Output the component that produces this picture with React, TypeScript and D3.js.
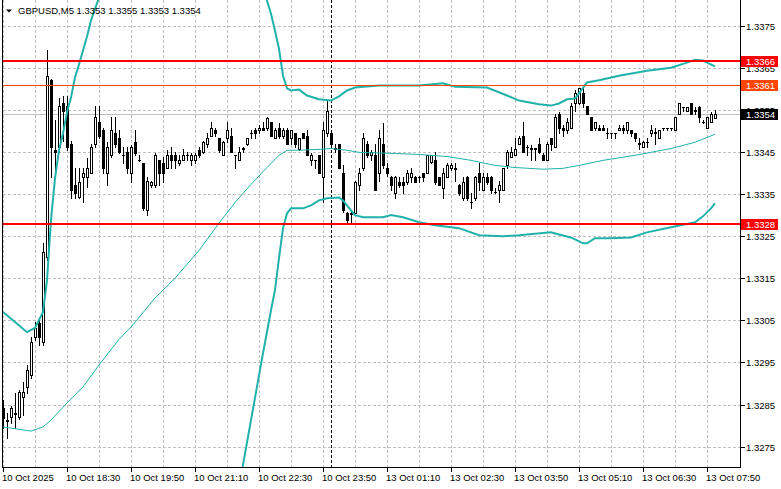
// App.tsx - GBPUSD M5 candles with Bollinger bands and levels (MT4 look)
import React from "react";
import * as d3 from "d3";

// prices are in points (1 point = 0.00001)
const symbol = "GBPUSD,M5";

const opens = [
  132842, 132813, 132821, 132828, 132821, 132868, 132892, 132920, 133010, 133043,
  132998, 133200, 133622, 133454, 133461, 133567, 133560, 133470, 133371, 133342,
  133390, 133390, 133401, 133470, 133520, 133501, 133401, 133442, 133494, 133482,
  133442, 133449, 133401, 133473, 133430, 133423, 133311, 133371, 133371, 133430,
  133423, 133411, 133442, 133442, 133423, 133430, 133442, 133430, 133430, 133454,
  133449, 133470, 133489, 133501, 133482, 133442, 133482, 133489, 133442, 133430,
  133458, 133470, 133494, 133501, 133501, 133508, 133508, 133520, 133482, 133508,
  133489, 133501, 133482, 133494, 133458, 133494, 133489, 133430, 133430, 133442,
  133390, 133494, 133494, 133458, 133470, 133401, 133304, 133304, 133304, 133371,
  133411, 133470, 133442, 133442, 133399, 133470, 133411, 133390, 133352, 133378,
  133378, 133378, 133390, 133390, 133390, 133399, 133401, 133425, 133430, 133390,
  133364, 133390, 133411, 133413, 133371, 133340, 133390, 133330, 133340, 133401,
  133359, 133390, 133390, 133354, 133359, 133359, 133418, 133437, 133442, 133470,
  133489, 133461, 133458, 133458, 133470, 133442, 133430, 133482, 133461, 133541,
  133508, 133501, 133508, 133567, 133567, 133591, 133560, 133532, 133508, 133508,
  133508, 133494, 133494, 133494, 133501, 133508, 133501, 133501, 133494, 133470,
  133461, 133473, 133494, 133496, 133482, 133506, 133506, 133506, 133501, 133541,
  133556, 133548, 133567, 133548, 133556, 133520, 133508, 133520, 133530,
];

const highs = [
  132861, 132830, 132847, 132877, 132885, 132904, 132944, 133010, 133046, 133055,
  133233, 133691, 133624, 133525, 133579, 133584, 133584, 133477, 133413, 133411,
  133413, 133435, 133470, 133560, 133560, 133506, 133473, 133532, 133532, 133501,
  133461, 133461, 133466, 133501, 133442, 133423, 133390, 133382, 133447, 133430,
  133437, 133454, 133461, 133449, 133442, 133458, 133449, 133447, 133447, 133461,
  133477, 133494, 133520, 133506, 133484, 133477, 133520, 133506, 133442, 133461,
  133461, 133484, 133501, 133506, 133513, 133520, 133532, 133520, 133506, 133518,
  133508, 133506, 133501, 133496, 133484, 133496, 133501, 133447, 133430, 133442,
  133520, 133572, 133496, 133470, 133470, 133418, 133307, 133307, 133382, 133411,
  133494, 133477, 133454, 133470, 133501, 133518, 133423, 133394, 133394, 133390,
  133390, 133406, 133411, 133394, 133394, 133401, 133442, 133442, 133449, 133390,
  133411, 133423, 133423, 133423, 133375, 133390, 133394, 133352, 133394, 133423,
  133399, 133399, 133394, 133364, 133382, 133413, 133454, 133461, 133482, 133489,
  133520, 133466, 133466, 133458, 133482, 133447, 133473, 133482, 133541, 133544,
  133513, 133530, 133567, 133596, 133603, 133601, 133560, 133532, 133520, 133513,
  133513, 133508, 133494, 133494, 133513, 133513, 133520, 133501, 133494, 133482,
  133477, 133482, 133513, 133508, 133501, 133508, 133508, 133508, 133532, 133567,
  133556, 133556, 133567, 133556, 133560, 133525, 133532, 133544, 133550,
];

const lows = [
  132794, 132771, 132806, 132794, 132816, 132825, 132877, 132913, 133003, 132991,
  132991, 133193, 133390, 133406, 133449, 133477, 133454, 133340, 133340, 133340,
  133330, 133366, 133399, 133461, 133482, 133401, 133371, 133437, 133461, 133447,
  133423, 133401, 133378, 133442, 133428, 133311, 133300, 133366, 133366, 133371,
  133378, 133411, 133411, 133411, 133418, 133430, 133430, 133418, 133423, 133437,
  133447, 133461, 133489, 133489, 133449, 133442, 133473, 133449, 133411, 133430,
  133449, 133466, 133482, 133482, 133496, 133501, 133501, 133489, 133482, 133484,
  133482, 133470, 133470, 133461, 133454, 133482, 133442, 133418, 133413, 133399,
  133330, 133489, 133466, 133449, 133411, 133307, 133283, 133281, 133304, 133359,
  133406, 133437, 133430, 133359, 133382, 133413, 133394, 133359, 133340, 133366,
  133352, 133375, 133378, 133378, 133378, 133382, 133399, 133423, 133375, 133371,
  133340, 133390, 133406, 133382, 133347, 133335, 133335, 133318, 133335, 133359,
  133359, 133375, 133352, 133352, 133330, 133359, 133413, 133437, 133442, 133470,
  133449, 133442, 133430, 133430, 133447, 133430, 133430, 133454, 133461, 133496,
  133489, 133496, 133508, 133548, 133565, 133556, 133541, 133501, 133501, 133501,
  133501, 133482, 133482, 133482, 133501, 133496, 133496, 133489, 133477, 133458,
  133461, 133461, 133489, 133470, 133482, 133501, 133501, 133501, 133501, 133541,
  133548, 133548, 133541, 133541, 133520, 133518, 133508, 133520, 133530,
];

const closes = [
  132818, 132811, 132842, 132830, 132880, 132880, 132932, 132998, 133032, 133010,
  133212, 133631, 133461, 133451, 133560, 133548, 133461, 133359, 133352, 133378,
  133401, 133411, 133461, 133532, 133489, 133411, 133461, 133501, 133470, 133449,
  133443, 133411, 133461, 133447, 133431, 133318, 133382, 133378, 133442, 133399,
  133401, 133442, 133430, 133430, 133430, 133442, 133443, 133442, 133442, 133442,
  133473, 133482, 133508, 133494, 133454, 133473, 133501, 133449, 133443, 133449,
  133459, 133482, 133495, 133494, 133508, 133501, 133530, 133489, 133501, 133489,
  133501, 133470, 133501, 133470, 133482, 133484, 133442, 133442, 133431, 133401,
  133501, 133548, 133470, 133459, 133411, 133311, 133288, 133302, 133378, 133401,
  133482, 133442, 133449, 133359, 133482, 133418, 133399, 133371, 133390, 133371,
  133371, 133399, 133401, 133378, 133391, 133390, 133442, 133442, 133378, 133371,
  133399, 133418, 133418, 133409, 133352, 133378, 133340, 133331, 133390, 133378,
  133390, 133378, 133359, 133355, 133371, 133411, 133449, 133449, 133458, 133482,
  133449, 133462, 133459, 133459, 133449, 133430, 133470, 133470, 133532, 133508,
  133501, 133520, 133560, 133591, 133601, 133567, 133541, 133501, 133520, 133501,
  133501, 133495, 133495, 133495, 133508, 133501, 133520, 133494, 133482, 133471,
  133473, 133474, 133501, 133497, 133501, 133507, 133507, 133507, 133532, 133567,
  133557, 133556, 133541, 133549, 133532, 133521, 133532, 133541, 133540,
];

// Bollinger bands: [bar index, value]
const upperBand: [number, number][] = [
  [0, 133070], [3, 133046], [6, 133022], [8, 133032], [9, 133051], [10, 133070],
  [11, 133145], [12, 133288], [13, 133387], [14, 133454], [15, 133494], [16, 133544],
  [17, 133579], [18, 133627], [19, 133658], [20, 133691], [21, 133724], [22, 133762],
  [23, 133790], [24, 133816], [28, 133880], [35, 133950], [45, 134000], [55, 134030],
  [60, 134000], [62, 133933], [65, 133834], [66, 133809], [67, 133778], [68, 133738],
  [69, 133695], [70, 133631], [71, 133601], [72, 133596], [74, 133598], [76, 133584],
  [79, 133575], [82, 133572], [84, 133582], [86, 133596], [88, 133603], [94, 133608],
  [104, 133608], [110, 133613], [113, 133605], [121, 133603], [126, 133584], [129, 133572],
  [134, 133563], [137, 133560], [139, 133565], [141, 133575], [143, 133577], [144, 133589],
  [146, 133615], [149, 133620], [154, 133631], [161, 133643], [167, 133650], [171, 133662],
  [173, 133669], [175, 133667], [176, 133662], [178, 133653],
];

const middleBand: [number, number][] = [
  [0, 132797], [7, 132787], [10, 132797], [12, 132813], [16, 132854], [20, 132892],
  [24, 132944], [29, 133005], [32, 133034], [38, 133103], [43, 133150], [49, 133216],
  [54, 133281], [58, 133330], [62, 133373], [66, 133413], [69, 133442], [71, 133454],
  [74, 133454], [79, 133456], [82, 133458], [86, 133454], [89, 133449], [96, 133447],
  [104, 133444], [111, 133439], [117, 133430], [123, 133418], [128, 133413], [135, 133409],
  [140, 133411], [144, 133418], [150, 133430], [158, 133442], [167, 133458], [173, 133473],
  [178, 133492],
];

const lowerBand: [number, number][] = [
  [0, 132524], [8, 132548], [11, 132465], [12, 132338], [16, 132164], [20, 132093],
  [24, 132072], [35, 132190], [45, 132344], [55, 132560], [58, 132600], [59, 132652],
  [60, 132707], [62, 132813], [65, 132972], [67, 133074], [68, 133122], [69, 133198],
  [70, 133269], [71, 133304], [72, 133316], [75, 133316], [77, 133323], [79, 133335],
  [81, 133340], [84, 133342], [85, 133335], [87, 133311], [88, 133300], [90, 133295],
  [95, 133295], [97, 133300], [100, 133295], [104, 133283], [108, 133276], [114, 133269],
  [119, 133252], [125, 133250], [129, 133252], [137, 133259], [139, 133254], [142, 133247],
  [145, 133233], [146, 133233], [148, 133245], [152, 133245], [157, 133247], [161, 133259],
  [167, 133271], [173, 133283], [175, 133297], [177, 133316], [178, 133328],
];

// horizontal levels
const levelValues = [133665, 133610, 133278];
const levelLabels = ["1.3366", "1.3361", "1.3328"];
const levelColors = ["#ff0000", "#ff4500", "#ff0000"];
const levelWidths = [2, 1, 2];

const timeLabels = [
  "10 Oct 2025", "10 Oct 18:30", "10 Oct 19:50", "10 Oct 21:10", "10 Oct 22:30", "10 Oct 23:50",
  "13 Oct 01:10", "13 Oct 02:30", "13 Oct 03:50", "13 Oct 05:10", "13 Oct 06:30", "13 Oct 07:50",
];
const timeLabelStep = 16; // bars between time labels
const daySeparatorBar = 82; // 13 Oct 00:00

const W = 781;
const H = 489;
const plotLeft = 3;
const plotRight = 740;
const plotBottom = 467;
const font = "'Liberation Sans', Arial, sans-serif";
const fontSize = 9.5;
const teal = "#20b2aa";
const gridColor = "#c0c0c0";

const fmt = (p: number) => (p / 100000).toFixed(4);

export default function App() {
  const n = closes.length;
  const x = d3.scaleLinear().domain([0, n - 1]).range([3, 715]);
  const y = d3.scaleLinear().domain([132750, 133750]).range([446.7, 25.6]);
  const yTicks = d3.range(132750, 133751, 100);
  const vGrid = d3.range(0, n - 1, 8);
  const px = (v: number) => Math.round(y(v));

  const band = d3
    .line<[number, number]>()
    .x((d) => x(d[0]))
    .y((d) => y(d[1]));

  const last = n - 1;
  const title = `${symbol}  ${fmt(opens[last])} ${fmt(highs[last])} ${fmt(lows[last])} ${fmt(closes[last])}`;
  const bid = closes[last];

  return (
    <div style={{ position: "fixed", left: 0, top: 0 }}>
      <svg width={W} height={H} style={{ display: "block", background: "#fff" }} fontFamily={font} fontSize={fontSize}>
        <defs>
          <clipPath id="plot">
            <rect x={plotLeft} y={0} width={plotRight - plotLeft} height={plotBottom} />
          </clipPath>
        </defs>

        {/* grid */}
        <g stroke={gridColor} strokeWidth={1} strokeDasharray="3 2" shapeRendering="crispEdges">
          {yTicks.map((t) => (
            <line key={t} x1={plotLeft} x2={plotRight} y1={px(t) + 0.5} y2={px(t) + 0.5} />
          ))}
          {vGrid.map((i) => (
            <line key={i} x1={Math.round(x(i)) + 0.5} x2={Math.round(x(i)) + 0.5} y1={0} y2={plotBottom} />
          ))}
        </g>

        {/* day separator */}
        <line
          x1={Math.round(x(daySeparatorBar)) + 0.5}
          x2={Math.round(x(daySeparatorBar)) + 0.5}
          y1={0}
          y2={plotBottom}
          stroke="#000"
          strokeDasharray="3 2"
          shapeRendering="crispEdges"
        />

        {/* bid line */}
        <line x1={plotLeft} x2={plotRight} y1={px(bid) + 0.5} y2={px(bid) + 0.5} stroke={gridColor} shapeRendering="crispEdges" />

        {/* candles */}
        <g clipPath="url(#plot)" shapeRendering="crispEdges">
          {closes.map((c, i) => {
            const cx = Math.round(x(i));
            const o = opens[i];
            const yh = px(highs[i]);
            const yl = px(lows[i]);
            const top = Math.min(px(o), px(c));
            const bot = Math.max(px(o), px(c));
            const bull = c > o;
            return (
              <g key={i}>
                <rect x={cx} y={yh} width={1} height={yl - yh + 1} fill="#000" />
                <rect x={cx - 1} y={top} width={3} height={bot - top + 1} fill="#000" />
                {bull && bot - top > 1 && <rect x={cx} y={top + 1} width={1} height={bot - top - 1} fill="#fff" />}
              </g>
            );
          })}
        </g>

        {/* bollinger bands */}
        <g clipPath="url(#plot)" fill="none" stroke={teal}>
          <path d={band(upperBand) || ""} strokeWidth={2} />
          <path d={band(lowerBand) || ""} strokeWidth={2} />
          <path d={band(middleBand) || ""} strokeWidth={1} />
        </g>

        {/* levels */}
        <g shapeRendering="crispEdges">
          {levelValues.map((v, i) => (
            <rect
              key={v}
              x={plotLeft}
              y={px(v) - Math.floor(levelWidths[i] / 2)}
              width={plotRight - plotLeft}
              height={levelWidths[i]}
              fill={levelColors[i]}
            />
          ))}
        </g>

        {/* frame */}
        <g stroke="#000" shapeRendering="crispEdges">
          <line x1={plotLeft - 0.5} x2={plotLeft - 0.5} y1={0} y2={plotBottom + 0.5} />
          <line x1={plotRight + 0.5} x2={plotRight + 0.5} y1={0} y2={plotBottom + 0.5} />
          <line x1={plotLeft - 1} x2={plotRight + 1} y1={plotBottom + 0.5} y2={plotBottom + 0.5} />
        </g>

        {/* price axis */}
        <g>
          {yTicks.map((t) => (
            <g key={t}>
              <line x1={plotRight + 1} x2={plotRight + 5} y1={px(t) + 0.5} y2={px(t) + 0.5} stroke="#000" shapeRendering="crispEdges" />
              <text x={746} y={px(t) + 0.5} dominantBaseline="central" fill="#000">
                {fmt(t)}
              </text>
            </g>
          ))}
        </g>

        {/* level and bid labels */}
        {levelValues.map((v, i) => (
          <g key={v}>
            <rect x={741} y={px(v) - 5} width={37} height={11} fill={levelColors[i]} />
            <text x={746} y={px(v) + 0.5} dominantBaseline="central" fill="#fff">
              {levelLabels[i]}
            </text>
          </g>
        ))}
        <rect x={741} y={px(bid) - 5} width={37} height={11} fill="#000" />
        <text x={746} y={px(bid) + 0.5} dominantBaseline="central" fill="#fff">
          {fmt(bid)}
        </text>

        {/* time axis */}
        {timeLabels.map((t, k) => {
          const tx = Math.round(x(k * timeLabelStep));
          return (
            <g key={t}>
              <line x1={tx + 0.5} x2={tx + 0.5} y1={plotBottom} y2={plotBottom + 5} stroke="#000" shapeRendering="crispEdges" />
              <text x={tx - 1} y={480.5} fill="#000">
                {t}
              </text>
            </g>
          );
        })}

        {/* title */}
        <polygon points="6,9.5 12,9.5 9,12.5" fill="#000" />
        <text x={18} y={14} fill="#000">
          {title}
        </text>
      </svg>
    </div>
  );
}

// eof
